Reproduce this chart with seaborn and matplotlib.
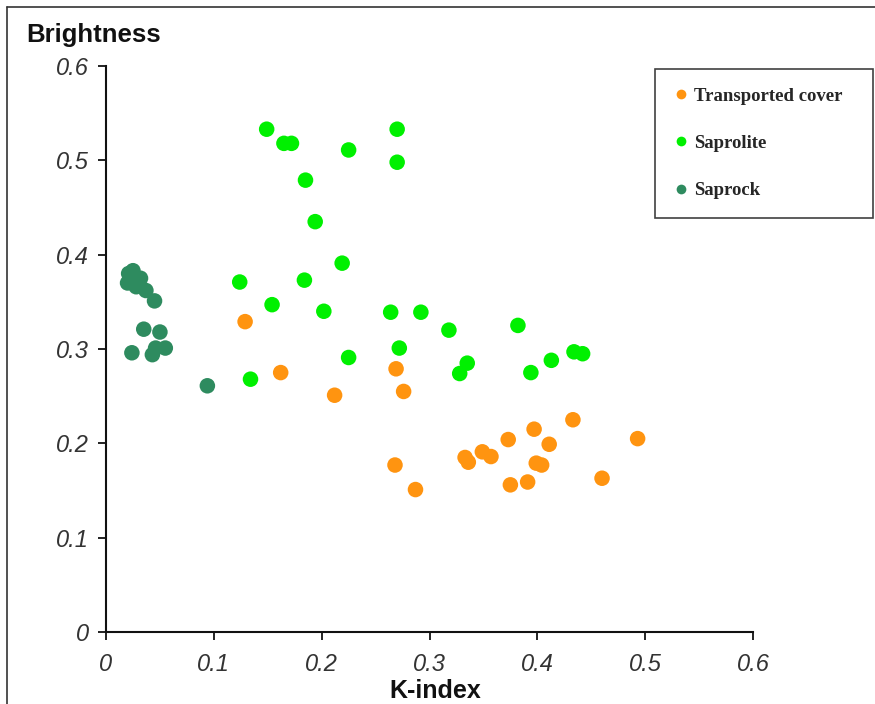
import matplotlib
matplotlib.use("Agg")
import matplotlib.pyplot as plt
import seaborn as sns
import pandas as pd
from matplotlib.lines import Line2D

# ---- data ----
transported_k = [0.129, 0.162, 0.212, 0.269, 0.276, 0.268, 0.287, 0.333, 0.336, 0.349,
                 0.357, 0.373, 0.375, 0.391, 0.397, 0.399, 0.404, 0.411, 0.433, 0.460, 0.493]
transported_b = [0.329, 0.275, 0.251, 0.279, 0.255, 0.177, 0.151, 0.185, 0.180, 0.191,
                 0.186, 0.204, 0.156, 0.159, 0.215, 0.179, 0.177, 0.199, 0.225, 0.163, 0.205]

saprolite_k = [0.149, 0.165, 0.172, 0.225, 0.270, 0.270, 0.185, 0.194, 0.219, 0.124,
               0.184, 0.154, 0.202, 0.264, 0.292, 0.318, 0.272, 0.225, 0.134, 0.382,
               0.335, 0.328, 0.394, 0.413, 0.434, 0.442]
saprolite_b = [0.533, 0.518, 0.518, 0.511, 0.533, 0.498, 0.479, 0.435, 0.391, 0.371,
               0.373, 0.347, 0.340, 0.339, 0.339, 0.320, 0.301, 0.291, 0.268, 0.325,
               0.285, 0.274, 0.275, 0.288, 0.297, 0.295]

saprock_k = [0.021, 0.025, 0.032, 0.020, 0.028, 0.037, 0.045, 0.035, 0.050, 0.024,
             0.043, 0.046, 0.055, 0.094, 0.030]
saprock_b = [0.380, 0.383, 0.375, 0.370, 0.366, 0.362, 0.351, 0.321, 0.318, 0.296,
             0.294, 0.301, 0.301, 0.261, 0.372]

categories = ["Transported cover", "Saprolite", "Saprock"]
colors = ["#FF9410", "#00F000", "#2E8B5F"]

df = pd.DataFrame({
    "K-index": transported_k + saprolite_k + saprock_k,
    "Brightness": transported_b + saprolite_b + saprock_b,
    "Type": [categories[0]] * len(transported_k) + [categories[1]] * len(saprolite_k)
            + [categories[2]] * len(saprock_k),
})

sns.set_theme(style="white")
plt.rcParams["font.family"] = ["Liberation Sans", "DejaVu Sans"]

W, H = 875, 704
fig = plt.figure(figsize=(W / 100, H / 100), dpi=100)
fig.patch.set_facecolor("white")
ax = fig.add_axes([106 / W, 1 - 632 / H, (753 - 106) / W, (632 - 66) / H])
ax.set_facecolor("white")

sns.scatterplot(data=df, x="K-index", y="Brightness", hue="Type",
                hue_order=categories, palette=colors, s=125,
                edgecolor="none", linewidth=0, ax=ax, legend=False, zorder=3)

ax.set_xlim(0, 0.6)
ax.set_ylim(0, 0.6)
ticks = [0, 0.1, 0.2, 0.3, 0.4, 0.5, 0.6]
tick_labels = ["0", "0.1", "0.2", "0.3", "0.4", "0.5", "0.6"]
ax.set_xticks(ticks)
ax.set_xticklabels(tick_labels)
ax.set_yticks(ticks)
ax.set_yticklabels(tick_labels)

for sp in ["top", "right"]:
    ax.spines[sp].set_visible(False)
for sp in ["left", "bottom"]:
    ax.spines[sp].set_visible(True)
    ax.spines[sp].set_color("#111111")
    ax.spines[sp].set_linewidth(1.5)

ax.tick_params(axis="both", which="major", direction="out", length=6, width=1.3,
               color="#111111", labelsize=17, labelcolor="#333333")
ax.tick_params(axis="x", pad=9, bottom=True)
ax.tick_params(axis="y", pad=6, left=True)
for lab in ax.get_xticklabels() + ax.get_yticklabels():
    lab.set_fontstyle("italic")

ax.set_xlabel("")
ax.set_ylabel("")
fig.text(94 / W, 1 - 35 / H, "Brightness", ha="center", va="center",
         fontsize=18.5, fontweight="bold", color="#111111")
fig.text(435 / W, 1 - 691 / H, "K-index", ha="center", va="center",
         fontsize=18, fontweight="bold", color="#111111")

# legend
handles = [Line2D([0], [0], marker="o", linestyle="none", markersize=7,
                  markerfacecolor=c, markeredgecolor="none") for c in colors]
leg = fig.legend(handles, categories, loc="upper left",
                 bbox_to_anchor=(655 / W, 1 - 218 / H, (873 - 655) / W, 149 / H),
                 mode="expand", borderaxespad=0,
                 frameon=True, fancybox=False, edgecolor="#111111",
                 prop={"family": "Liberation Serif", "weight": "bold", "size": 13.5},
                 handlelength=0.8, handletextpad=0.3, labelspacing=1.6,
                 borderpad=1.0)
leg.get_frame().set_linewidth(1.2)

# outer figure border (left & top visible)
fig.add_artist(Line2D([7 / W, 7 / W], [0, 1 - 7 / H], color="#333333", lw=1.2))
fig.add_artist(Line2D([7 / W, 1], [1 - 7 / H, 1 - 7 / H], color="#333333", lw=1.2))

fig.savefig("out.png", dpi=100, facecolor="white")
